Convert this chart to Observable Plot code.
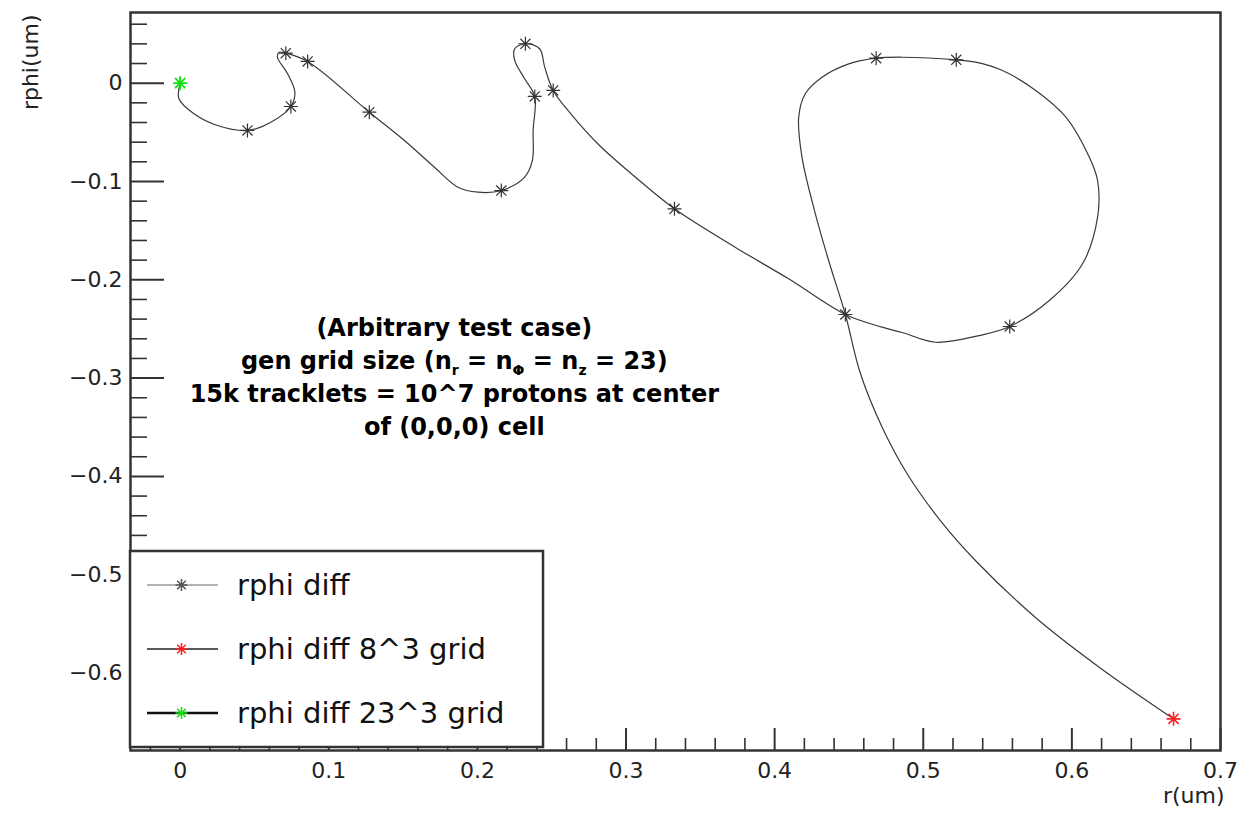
<!DOCTYPE html>
<html>
<head>
<meta charset="utf-8">
<script src="https://cdn.jsdelivr.net/npm/d3@7"></script>
<script src="https://cdn.jsdelivr.net/npm/@observablehq/plot@0.6"></script>
<style>
  html, body { margin: 0; padding: 0; background: #fff; overflow: hidden; }
  #chart svg { display: block; }
</style>
</head>
<body>
<div id="chart"></div>
<script>
// ---- data ----
// trace of the "rphi diff" curve (r in um, rphi in um)
const rPath = [0, -0.0008, 0.0093, 0.0251, 0.0453, 0.0610, 0.0745, 0.0772, 0.0723, 0.0655, 0.0666, 0.0711, 0.0858, 0.1273, 0.1509, 0.1711, 0.1869, 0.2004, 0.2161, 0.2318, 0.2370, 0.2375, 0.2386, 0.2318, 0.2251, 0.2251, 0.2323, 0.2419, 0.2453, 0.2510, 0.2633, 0.2822, 0.3058, 0.3326, 0.3734, 0.4094, 0.4476, 0.4724, 0.4858, 0.5083, 0.5376, 0.5582, 0.5848, 0.6072, 0.6173, 0.6173, 0.6117, 0.5960, 0.5757, 0.5533, 0.5353, 0.5222, 0.4858, 0.4683, 0.4499, 0.4319, 0.4206, 0.4162, 0.4184, 0.4274, 0.4370, 0.4476, 0.4575, 0.4724, 0.4899, 0.5115, 0.5351, 0.5755, 0.6186, 0.6684];
const phiPath = [0, -0.0159, -0.0311, -0.0430, -0.0481, -0.0397, -0.0237, -0.0092, 0.0096, 0.0264, 0.0315, 0.0305, 0.0221, -0.0295, -0.0583, -0.0855, -0.1058, -0.1109, -0.1092, -0.0956, -0.0786, -0.0481, -0.0135, 0.0045, 0.0231, 0.0350, 0.0401, 0.0350, 0.0163, -0.0074, -0.0319, -0.0634, -0.0949, -0.1278, -0.1668, -0.1990, -0.2353, -0.2482, -0.2536, -0.2635, -0.2567, -0.2475, -0.2211, -0.1837, -0.1363, -0.0990, -0.0752, -0.0346, -0.0074, 0.0129, 0.0214, 0.0238, 0.0264, 0.0254, 0.0197, 0.0061, -0.0108, -0.0346, -0.0753, -0.1329, -0.1837, -0.2353, -0.2943, -0.3502, -0.3991, -0.4449, -0.4855, -0.5435, -0.5943, -0.6466];
// 1 where the curve carries a "*" marker
const starred = [0,0,0,0,1,0,1,0,0,0,0,1,1,1,0,0,0,0,1,0,0,0,1,0,0,0,1,0,0,1,0,0,0,1,0,0,1,0,0,0,0,1,0,0,0,0,0,0,0,0,0,1,0,1,0,0,0,0,0,0,0,0,0,0,0,0,0,0,0,0];
// single-point graphs
const grid8R = [0.6684], grid8Phi = [-0.6466];
const grid23R = [0], grid23Phi = [0];

const seriesNames = ["rphi diff", "rphi diff 8^3 grid", "rphi diff 23^3 grid"];
const seriesColors = ["#555555", "#ff2020", "#11dd11"];

const xMajor = [0, 0.1, 0.2, 0.3, 0.4, 0.5, 0.6, 0.7];
const xTickLabels = ["0", "0.1", "0.2", "0.3", "0.4", "0.5", "0.6", "0.7"];
const yMajor = [0, -0.1, -0.2, -0.3, -0.4, -0.5, -0.6];
const yTickLabels = ["0", "\u22120.1", "\u22120.2", "\u22120.3", "\u22120.4", "\u22120.5", "\u22120.6"];
const noteLines = ["(Arbitrary test case)", "gen grid size (n_r = n_\u03a6 = n_z = 23)", "15k tracklets = 10^7 protons at center", "of (0,0,0) cell"];

// ---- build ----
const W = 1239, H = 818;
const xDom = [-0.0334, 0.7], yDom = [-0.6788, 0.0719];
const mL = 130, mR = 19, mT = 12, mB = 68;
const pxX = (W - mL - mR) / (xDom[1] - xDom[0]);
const pxY = (H - mT - mB) / (yDom[1] - yDom[0]);

const xMinor = d3.range(-0.02, 0.701, 0.02).map(v => +v.toFixed(3)).filter(v => !xMajor.some(m => Math.abs(m - v) < 1e-6));
const yMinor = d3.range(0.06, -0.67, -0.02).map(v => +v.toFixed(3)).filter(v => !yMajor.some(m => Math.abs(m - v) < 1e-6));

const path = rPath.map((r, i) => ({r, phi: phiPath[i], star: starred[i]}));
const stars = path.filter(d => d.star);

const star8 = {
  draw(ctx, size) {
    const r = Math.sqrt(size / Math.PI);
    const d = r * 0.72;
    ctx.moveTo(-r, 0); ctx.lineTo(r, 0);
    ctx.moveTo(0, -r); ctx.lineTo(0, r);
    ctx.moveTo(-d, -d); ctx.lineTo(d, d);
    ctx.moveTo(-d, d); ctx.lineTo(d, -d);
  }
};

const noteX = 0.1845, noteY0 = -0.2495, noteStep = 0.0336;

const plot = Plot.plot({
  width: W, height: H,
  marginLeft: mL, marginRight: mR, marginTop: mT, marginBottom: mB,
  style: {fontFamily: "DejaVu Sans", fontSize: "22px", background: "#fff", color: "#111"},
  x: {domain: xDom, axis: null},
  y: {domain: yDom, axis: null},
  marks: [
    // ticks
    Plot.ruleX(xMinor, {y1: yDom[0], y2: yDom[0] + 12 / pxY, stroke: "#333", strokeWidth: 1.6}),
    Plot.ruleX(xMajor, {y1: yDom[0], y2: yDom[0] + 22 / pxY, stroke: "#333", strokeWidth: 2}),
    Plot.ruleY(yMinor, {x1: xDom[0], x2: xDom[0] + 17 / pxX, stroke: "#333", strokeWidth: 1.6}),
    Plot.ruleY(yMajor, {x1: xDom[0], x2: xDom[0] + 34 / pxX, stroke: "#333", strokeWidth: 2}),
    Plot.axisX(xMajor, {tickSize: 0, tickPadding: 12, tickFormat: (d, i) => xTickLabels[i], label: null, fontSize: 22, fill: "#222"}),
    Plot.axisY(yMajor, {tickSize: 0, tickPadding: 8, tickFormat: (d, i) => yTickLabels[i], label: null, fontSize: 22, fill: "#222"}),
    Plot.frame({stroke: "#333", strokeWidth: 2.5}),
    // curve
    Plot.line(path, {x: "r", y: "phi", curve: "catmull-rom", stroke: "#3a3a3a", strokeWidth: 1.2}),
    Plot.dot(stars, {x: "r", y: "phi", symbol: star8, r: 7, fill: "none", stroke: "#333", strokeWidth: 1.2}),
    Plot.dot(grid8R.map((r, i) => ({r, phi: grid8Phi[i]})), {x: "r", y: "phi", symbol: star8, r: 7, fill: "none", stroke: seriesColors[1], strokeWidth: 1.6}),
    Plot.dot(grid23R.map((r, i) => ({r, phi: grid23Phi[i]})), {x: "r", y: "phi", symbol: star8, r: 7, fill: "none", stroke: seriesColors[2], strokeWidth: 1.8}),
    // annotation
    Plot.text(noteLines, {x: () => noteX, y: (d, i) => noteY0 - i * noteStep, text: d => d, fontFamily: "DejaVu Sans", fontWeight: "bold", fontSize: 24, fill: "#000", textAnchor: "middle"}),
    // axis titles
    Plot.text(["r(um)"], {frameAnchor: "bottom-right", dy: 52, dx: 4, text: d => d, textAnchor: "end", fontSize: 22, fill: "#222"}),
    Plot.text(["rphi(um)"], {frameAnchor: "top-left", dx: -108, dy: 2, rotate: -90, text: d => d, textAnchor: "end", fontSize: 22, fill: "#222"})
  ]
});

// subscripts in the annotation
d3.select(plot).selectAll("text").each(function() {
  const t = this.textContent;
  if (t.startsWith("gen grid size")) {
    const el = d3.select(this);
    el.text(null);
    const parts = [["gen grid size (n", 0], ["r", 1], [" = n", 0], ["\u03a6", 1], [" = n", 0], ["z", 1], [" = 23)", 0]];
    let shifted = false;
    for (const [s, sub] of parts) {
      const ts = el.append("tspan").text(s);
      if (sub) { ts.attr("font-size", 14).attr("dy", 6); shifted = true; }
      else if (shifted) { ts.attr("dy", -6); shifted = false; }
    }
  }
});

// legend box (ROOT TLegend)
const svg = d3.select(plot);
const lg = svg.append("g").attr("text-anchor", "start");
lg.append("rect").attr("x", 130).attr("y", 551).attr("width", 413).attr("height", 196)
  .attr("fill", "#fff").attr("stroke", "#333").attr("stroke-width", 2.5);
const rowsY = [585, 649, 713];
const lineW = [1, 1.6, 2.6];
const lineC = ["#666", "#222", "#111"];
rowsY.forEach((yy, i) => {
  lg.append("line").attr("x1", 147).attr("x2", 218).attr("y1", yy).attr("y2", yy)
    .attr("stroke", lineC[i]).attr("stroke-width", lineW[i]);
  const r = 6, dd = r * 0.72;
  lg.append("path")
    .attr("d", `M${181.5 - r},${yy}H${181.5 + r}M181.5,${yy - r}V${yy + r}M${181.5 - dd},${yy - dd}L${181.5 + dd},${yy + dd}M${181.5 - dd},${yy + dd}L${181.5 + dd},${yy - dd}`)
    .attr("fill", "none").attr("stroke", seriesColors[i]).attr("stroke-width", 1.5);
  lg.append("text").attr("x", 237).attr("y", yy).attr("dy", "0.35em")
    .attr("text-anchor", "start")
    .attr("font-family", "DejaVu Sans").attr("font-size", 29).attr("fill", "#111")
    .text(seriesNames[i]);
});

document.getElementById("chart").appendChild(plot);
</script>
</body>
</html>
